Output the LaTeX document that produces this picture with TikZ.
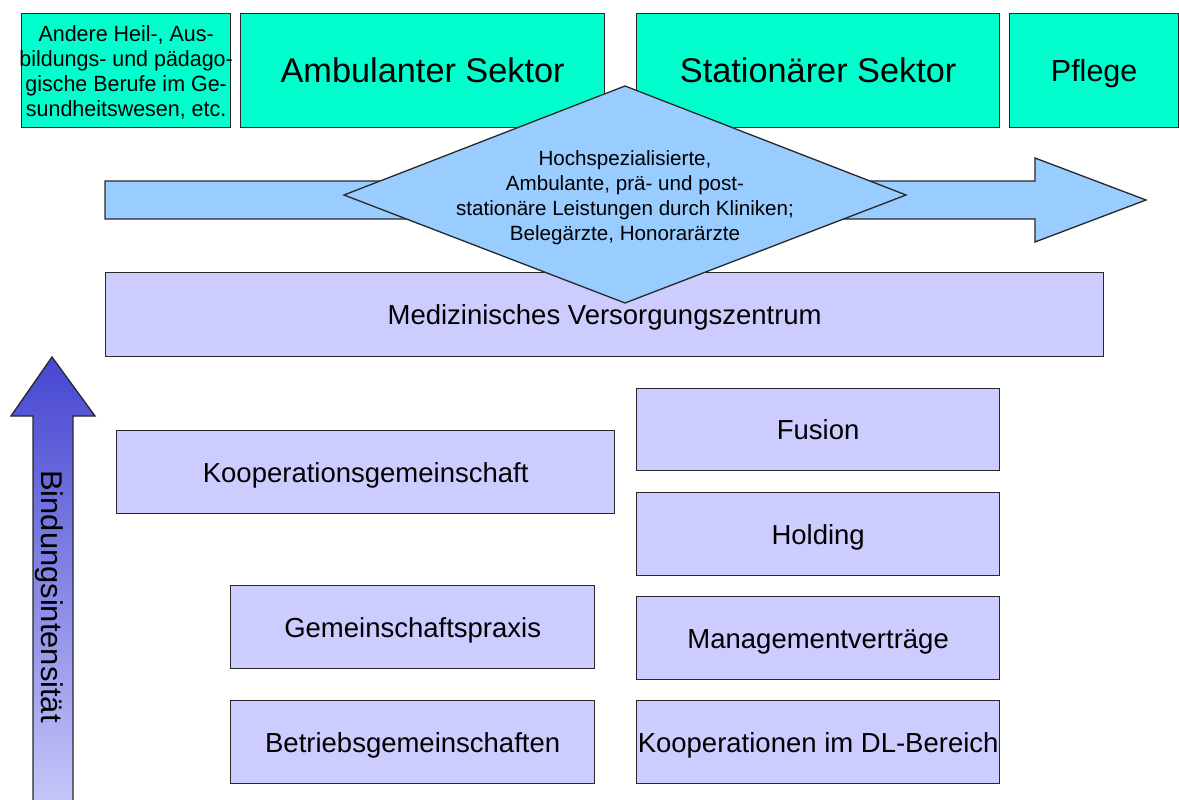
\documentclass[tikz,border=0pt]{standalone}
\usepackage{fontspec}
\setmainfont{Liberation Sans}
\definecolor{sector}{RGB}{0,255,204}
\definecolor{flow}{RGB}{153,204,255}
\definecolor{form}{RGB}{204,204,255}
\definecolor{bindtop}{RGB}{70,70,210}
\definecolor{bindbot}{RGB}{200,200,250}
\definecolor{edge}{RGB}{40,40,40}

\begin{document}
\begin{tikzpicture}[x=1pt,y=-1pt,
  outline/.style={draw=edge, line width=1.3pt, line join=miter},
  % text box as tall as the capitals, so the caps sit centred in the box
  sectorbox/.style={outline, fill=sector, inner sep=0pt, anchor=north west,
    text height=24.5pt, text depth=0pt, font=\fontsize{34.3}{40}\selectfont},
  formbox/.style={outline, fill=form, inner sep=0pt, anchor=north west,
    text height=19.7pt, text depth=0pt, font=\fontsize{27.5}{32}\selectfont},
  flowshape/.style={outline, fill=flow},
]
\useasboundingbox (0,0) rectangle (1179,800);

% sectors along the top
\node[sectorbox, minimum width=209pt, minimum height=114pt] (andere) at (21,13) {};
\node[inner sep=0pt, font=\fontsize{22}{25}\selectfont, align=center] (anderetext)
  at ([yshift=-3pt]andere.center)
  {\scalebox{0.975}[1]{\begin{tabular}{@{}c@{}}Andere Heil-, Aus-\\bildungs- und pädago-\\gische Berufe im Ge-\\sundheitswesen, etc.\end{tabular}}};
\node[sectorbox, minimum width=364pt, minimum height=114pt] (amb) at (240,13) {Ambulanter Sektor};
\node[sectorbox, minimum width=363pt, minimum height=114pt] (stat) at (636,13) {Stationärer Sektor};
\node[sectorbox, minimum width=169pt, minimum height=114pt, text height=21.8pt,
      font=\fontsize{30.5}{36}\selectfont] (pflege) at (1009,13) {Pflege};

% broad arrow from the outpatient to the inpatient side
\draw[flowshape] (105,181) -- (1035,181) -- (1035,158) -- (1146,200)
  -- (1035,242) -- (1035,219) -- (105,219) -- cycle;

% integrated care centre
\node[formbox, minimum width=998pt, minimum height=84pt] (mvz) at (105,272)
  {Medizinisches Versorgungszentrum};

% overlap of both sectors
\draw[flowshape] (344,195) -- (625,86) -- (906,195) -- (625,303) -- cycle;
\node[align=center, font=\fontsize{20.6}{25}\selectfont, inner sep=0pt] (hoch) at (625,198)
  {Hochspezialisierte,\\Ambulante, prä- und post-\\stationäre Leistungen durch Kliniken;\\Belegärzte, Honorarärzte};

% forms of cooperation, left column
\node[formbox, minimum width=498pt, minimum height=83pt] (koop) at (116,430) {Kooperationsgemeinschaft};
\node[formbox, minimum width=364pt, minimum height=83pt] (gemp) at (230,585) {Gemeinschaftspraxis};
\node[formbox, minimum width=364pt, minimum height=83pt] (betr) at (230,700) {Betriebsgemeinschaften};

% forms of cooperation, right column
\node[formbox, minimum width=363pt, minimum height=82pt] (fusion) at (636,388) {Fusion};
\node[formbox, minimum width=363pt, minimum height=83pt] (holding) at (636,492) {Holding};
\node[formbox, minimum width=363pt, minimum height=83pt] (mgmt) at (636,596) {Managementverträge};
\node[formbox, minimum width=363pt, minimum height=83pt] (dl) at (636,700) {Kooperationen im DL-Bereich};

% rising intensity of ties
\draw[outline, top color=bindtop, bottom color=bindbot, shading angle=0]
  (52,357) -- (95,416) -- (73,416) -- (73,812) -- (33,812) -- (33,416) -- (11,416) -- cycle;
\node[rotate=-90, inner sep=0pt, font=\fontsize{30}{36}\selectfont] (bind) at (49,596.5)
  {\scalebox{1.03}[1]{Bindungsintensität}};
\end{tikzpicture}
\end{document}
